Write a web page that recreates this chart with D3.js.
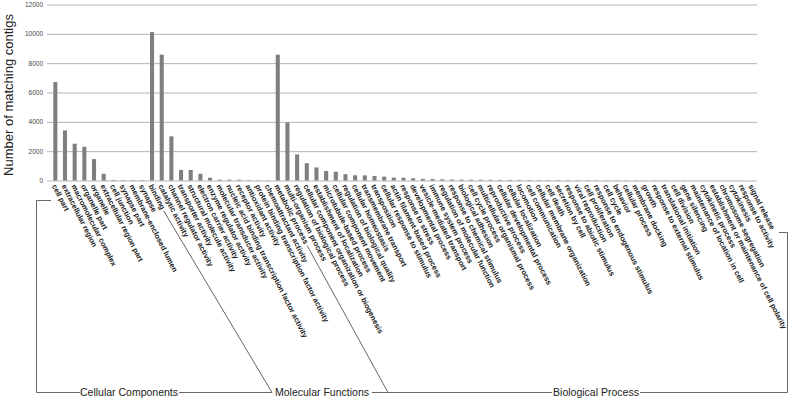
<!DOCTYPE html>
<html>
<head>
<meta charset="utf-8">
<title>GO categories</title>
<script src="https://d3js.org/d3.v7.min.js"></script>
<style>
  body { margin: 0; background: #fff; }
  svg { font-family: "Liberation Sans", Arial, sans-serif; }
  .tick text { fill: #444; font-size: 6.5px; }
  .cat { font-size: 7.5px; font-weight: bold; fill: #222; }
  .group { font-size: 10.5px; fill: #222; }
</style>
</head>
<body>
<div id="chart"></div>
<script>
// Cellular Components
var ccCats = ["cell part", "extracellular region", "macromolecular complex", "organelle part",
  "organelle", "extracellular region part", "cell junction", "synapse part",
  "membrane-enclosed lumen", "synapse"];
var ccVals = [6720, 3420, 2510, 2300, 1460, 460, 40, 30, 30, 25];

// Molecular Functions
var mfCats = ["binding", "catalytic activity", "channel regulator activity", "transporter activity",
  "structural molecule activity", "electron carrier activity", "enzyme regulator activity",
  "molecular transducer activity", "nucleic acid binding transcription factor activity",
  "receptor activity", "antioxidant activity", "protein binding transcription factor activity",
  "chemoattractant activity"];
var mfVals = [10120, 8580, 3010, 720, 720, 460, 190, 60, 60, 55, 25, 20, 15];

// Biological Process
var bpCats = ["metabolic process", "multi-organism process", "regulation of biological process",
  "cellular component organization or biogenesis", "establishment of localization",
  "microtubule-based process", "cellular component movement", "regulation of biological quality",
  "cellular homeostasis", "transmembrane transport", "transposition", "cellular response to stimulus",
  "actin filament-based process", "response to stress", "developmental process",
  "vesicle-mediated transport", "immune system process", "regulation of molecular function",
  "response to chemical stimulus", "biological adhesion", "cell cycle process",
  "multicellular organismal process", "reproductive process", "cellular developmental process",
  "cellular localization", "locomotion", "cell communication", "cellular membrane organization",
  "cell death", "secretion by cell", "response to abiotic stimulus", "viral reproduction",
  "cell proliferation", "response to endogenous stimulus", "cell cycle", "behavior",
  "cellular process", "membrane docking", "growth", "response to external stimulus",
  "translational initiation", "cell division", "gene silencing", "maintenance of location in cell",
  "cytokinetic process", "establishment or maintenance of cell polarity", "chromosome segregation",
  "cytokinesis", "response to activity", "signal release"];
var bpVals = [8580, 3950, 1780, 1180, 890, 650, 600, 430, 355, 350, 310, 260, 200, 190, 150,
  110, 100, 80, 70, 60, 55, 50, 45, 40, 38, 35, 33, 30, 28, 26, 24, 22, 20, 18, 17, 16,
  15, 14, 13, 12, 11, 10, 10, 9, 8, 8, 7, 6, 5, 5];

var groupNames = ["Cellular Components", "Molecular Functions", "Biological Process"];
var yTicks = [0, 2000, 4000, 6000, 8000, 10000, 12000];

var data = [];
[[ccCats, ccVals], [mfCats, mfVals], [bpCats, bpVals]].forEach(function(g, gi) {
  g[0].forEach(function(c, i) { data.push({name: c, value: g[1][i], group: gi}); });
});

var width = 790, height = 401;
var plotLeft = 50.5, plotRight = 756.5;
var gridLeft = 47, gridRight = 757;

var svg = d3.select("#chart").append("svg")
    .attr("width", width)
    .attr("height", height);

var x = d3.scaleBand()
    .domain(data.map(function(d) { return d.name; }))
    .range([plotLeft, plotRight])
    .paddingInner(0.58)
    .paddingOuter(0.29);

var y = d3.scaleLinear()
    .domain([0, 12000])
    .range([180.5, 4.5]);

// gridlines
svg.append("g")
    .attr("transform", "translate(" + gridLeft + ",0)")
    .call(d3.axisLeft(y).tickValues(yTicks).tickSize(-(gridRight - gridLeft)).tickFormat(""))
    .call(function(g) {
      g.select(".domain").remove();
      g.selectAll("line").attr("stroke", "#b4b4b4");
    });

// tick labels
svg.append("g")
    .attr("transform", "translate(" + (gridLeft - 2) + ",0)")
    .call(d3.axisLeft(y).tickValues(yTicks).tickSize(0).tickPadding(2).tickFormat(d3.format("d")))
    .call(function(g) { g.select(".domain").remove(); });

// bars
svg.selectAll("rect.bar")
    .data(data)
    .enter().append("rect")
    .attr("class", "bar")
    .attr("x", function(d) { return x(d.name); })
    .attr("width", x.bandwidth())
    .attr("y", function(d) { return y(d.value); })
    .attr("height", function(d) { return y(0) - y(d.value); })
    .attr("fill", "#7f7f7f");

// y title
svg.append("text")
    .attr("transform", "translate(13,95) rotate(-90)")
    .attr("text-anchor", "middle")
    .style("font-size", "13px")
    .style("fill", "#222")
    .text("Number of matching contigs");

// rotated category labels
var angle = 63;
var rad = angle * Math.PI / 180;
var labelY = 185;
var labels = svg.selectAll("text.cat")
    .data(data)
    .enter().append("text")
    .attr("class", "cat")
    .attr("transform", function(d) {
      return "translate(" + (x(d.name) + x.bandwidth() / 2 - 1.5) + "," + labelY + ") rotate(" + angle + ")";
    })
    .attr("dy", "0.3em")
    .text(function(d) { return d.name; });

function labelEnd(name, gap) {
  var node = labels.filter(function(d) { return d.name === name; }).node();
  var len = node.getComputedTextLength() + gap;
  var x0 = x(name) + x.bandwidth() / 2 - 1.5;
  return [x0 + len * Math.cos(rad), labelY + len * Math.sin(rad)];
}

// group bracket
var baseY = 392.5;
var lineColor = "#666";
var bracket = svg.append("g").attr("fill", "none").attr("stroke", lineColor).attr("stroke-width", 1);

bracket.append("path").attr("d", "M51,200.5H36.5V" + baseY + "H80");
bracket.append("path").attr("d", "M179,392.5H272");
bracket.append("path").attr("d", "M372,392.5H552");
bracket.append("path").attr("d", "M640,392.5H787.5V232.5H779");

var p1 = labelEnd("binding", 2);
bracket.append("path").attr("d", "M" + p1[0] + "," + p1[1] + "L272," + baseY);
var p2 = labelEnd("metabolic process", 2);
bracket.append("path").attr("d", "M" + p2[0] + "," + p2[1] + "L388," + baseY);
bracket.append("path").attr("d", "M388," + baseY + "H" + 372);

svg.selectAll("text.group")
    .data(groupNames)
    .enter().append("text")
    .attr("class", "group")
    .attr("x", function(d, i) { return [129, 322, 596][i]; })
    .attr("y", baseY)
    .attr("dy", "0.35em")
    .attr("text-anchor", "middle")
    .text(function(d) { return d; });
</script>
</body>
</html>
